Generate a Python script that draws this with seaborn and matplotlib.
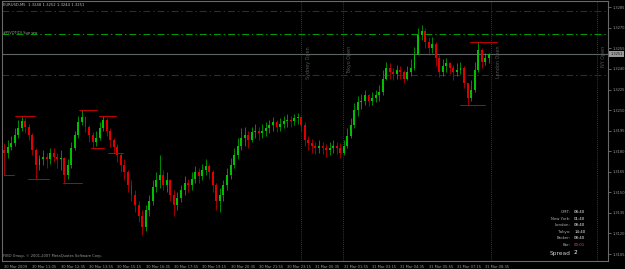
import numpy as np
import pandas as pd
import matplotlib
matplotlib.use("Agg")
import matplotlib.pyplot as plt
import matplotlib.transforms as mtransforms
import seaborn as sns

# ---------------- data (prices given in pips above 1.3100) ----------------
header_text = "EURUSD,M5  1.3248 1.3252 1.3244 1.3251"
first_open_pips = 81
close_pips = [79,83,86,92,97,102,98,92,81,70,74,76,74,79,76,74,75,63,70,82,
              92,101,105,98,92,87,90,97,103,95,88,83,77,70,65,55,48,41,33,25,
              37,44,54,59,63,55,59,48,41,46,52,57,55,60,65,62,66,69,65,55,
              44,48,55,63,70,77,84,90,92,88,94,95,93,95,97,99,101,98,100,102,
              103,102,104,105,99,88,86,84,82,84,82,81,82,84,82,79,84,91,99,110,
              116,117,121,117,119,121,123,133,141,138,136,139,138,133,138,141,150,165,168,160,
              155,158,148,138,142,144,141,138,139,141,130,119,125,139,154,145,148,151]
high_pips = [86,88,91,97,103,106,104,100,93,82,77,81,79,82,82,79,81,76,74,87,
             95,106,110,106,99,94,95,101,106,104,97,90,85,79,74,66,59,52,44,37,
             41,48,59,65,77,66,65,60,52,50,55,62,60,65,69,68,71,74,71,66,
             57,53,59,68,75,82,90,97,98,95,98,100,98,100,101,103,105,103,104,106,
             107,106,107,108,106,101,91,89,87,88,87,85,87,88,87,86,88,97,104,115,
             120,122,125,122,123,125,128,139,145,144,141,143,142,139,142,147,156,170,172,170,
             163,163,160,150,147,148,145,143,144,145,142,130,132,145,160,155,152,152]
low_pips = [63,75,81,84,90,95,93,88,77,60,66,70,68,71,72,68,66,57,60,68,
            81,90,99,94,87,82,84,88,95,91,83,79,72,65,59,50,44,36,28,19,
            22,33,41,50,53,52,50,44,33,37,43,48,50,52,57,57,59,63,60,50,
            37,36,44,52,60,68,74,81,84,82,87,90,88,90,91,93,95,94,95,97,
            98,98,99,100,95,84,81,79,78,79,78,76,77,79,78,75,77,82,90,97,
            106,111,114,113,114,116,117,121,132,133,132,133,133,130,132,135,139,154,161,155,
            150,152,142,134,135,138,136,132,135,136,126,114,117,123,138,141,143,144]
tick_labels = ["30 Mar 2009", "30 Mar 11:05", "30 Mar 12:35", "30 Mar 13:55", "30 Mar 15:15",
               "30 Mar 16:35", "30 Mar 17:55", "30 Mar 19:15", "30 Mar 20:35", "30 Mar 21:55",
               "30 Mar 23:15", "31 Mar 00:35", "31 Mar 01:55", "31 Mar 03:15", "31 Mar 04:35",
               "31 Mar 05:55", "31 Mar 07:15", "31 Mar 08:35"]
y_ticks = [1.3105, 1.3120, 1.3135, 1.3150, 1.3165, 1.3180, 1.3195, 1.3210, 1.3225,
           1.3240, 1.3255, 1.3270, 1.3285]
red_levels = [1.32823, 1.32356]
green_levels = [1.32655]
current_price = 1.3251
session_names = ["Sydney Open", "Tokyo Open", "London Open", "NY Open"]
session_bars = [84.0, 95.8, 137.7, 167.6]
marker_lines = [  # (start bar, end bar, price)
    (0, 2.8, 1.3163), (3.1, 8.8, 1.3206), (6.8, 12.7, 1.3160), (16.7, 22.0, 1.3157),
    (21.2, 26.3, 1.3210), (24.6, 28.3, 1.3182), (26.9, 31.7, 1.3206), (29.4, 33.6, 1.3179),
    (128.9, 136.0, 1.3214), (131.8, 139.4, 1.3260)]
info_labels = ["GMT:", "New York:", "London:", "Tokyo:", "Broker:", "Bar:"]
info_values = ["08:40", "01:40", "08:40", "14:40", "08:40", "00:01"]
spread_value = "2"
copyright_text = "FIBO Group, \u00a9 2001-2007 MetaQuotes Software Corp."

# ---------------- build candles ----------------
to_price = lambda p: 1.31 + np.asarray(p, dtype=float) / 10000
closes = to_price(close_pips)
opens = np.concatenate([[to_price(first_open_pips)], closes[:-1]])
df = pd.DataFrame({"bar": np.arange(len(closes)), "open": opens, "close": closes,
                   "high": to_price(high_pips), "low": to_price(low_pips)})
df["up"] = df["close"] >= df["open"]

sns.set_style("dark", {"axes.facecolor": "black", "figure.facecolor": "black"})
plt.rcParams["font.family"] = ["DejaVu Sans"]

W, H = 625, 269
fig = plt.figure(figsize=(W / 100, H / 100), dpi=100, facecolor="black")
ax = fig.add_axes([2 / W, 8 / H, 606 / W, 260 / H])
ax.set_facecolor("black")

green = "#00c000"
red = "#e00000"
colors = np.where(df["up"], green, red)

ax.vlines(df["bar"], df["low"], df["high"], colors=colors, linewidth=0.5, zorder=3)
body_bottom = df[["open", "close"]].min(axis=1)
body_h = (df["close"] - df["open"]).abs().clip(lower=0.00003)
ax.bar(df["bar"], body_h, bottom=body_bottom, width=0.55, color=colors, linewidth=0, zorder=4)

dashdot = (0, (7, 3, 1.5, 3))
for lv in red_levels:
    ax.axhline(lv, color="#a00000", linewidth=0.7, linestyle=dashdot, zorder=2)
for lv in green_levels:
    ax.axhline(lv, color="#00a000", linewidth=0.7, linestyle=dashdot, zorder=2)
ax.axhline(current_price, color="#5e6466", linewidth=0.8, zorder=2)

for (b0, b1, p) in marker_lines:
    ax.plot([b0, b1], [p, p], color="#c00000", linewidth=0.7, zorder=5)

trans = mtransforms.blended_transform_factory(ax.transData, ax.transAxes)
for name, b in zip(session_names, session_bars):
    ax.axvline(b, color="#4a4a4a", linewidth=0.6, linestyle=(0, (1, 1.5)), zorder=1)
    ax.text(b + 1.2, 0.827, name, rotation=90, transform=trans, ha="left", va="top",
            color="#555555", fontsize=3.5)

ax.set_xlim(-0.6, 170.7)
ax.set_ylim(1.30999, 1.32896)

ax.yaxis.tick_right()
ax.set_yticks(y_ticks)
ax.set_yticklabels([f"{v:.4f}" for v in y_ticks])
ax.set_xticks(np.arange(len(tick_labels)) * 8)
ax.set_xticklabels(tick_labels, ha="left")
ax.tick_params(axis="both", colors="#8a8a8a", labelcolor="#9a9a9a", labelsize=2.6,
               length=2, width=0.5, direction="out", pad=1.0)
ax.grid(False)
for s in ax.spines.values():
    s.set_color("#6a6a6a")
    s.set_linewidth(0.8)
    s.set_visible(True)

# current price box
ax.text(1.004, current_price, f"{current_price:.4f}",
        transform=mtransforms.blended_transform_factory(ax.transAxes, ax.transData),
        ha="left", va="center", fontsize=2.6, color="#202020",
        bbox=dict(boxstyle="square,pad=0.3", facecolor="#9a9a9a", edgecolor="none"), clip_on=False)

ax.text(0.002, 0.985, header_text, transform=ax.transAxes, ha="left", va="center",
        color="#bdbdbd", fontsize=2.7)
ax.text(0.002, 0.877, "#PIVOT(D) Sup ww", transform=ax.transAxes, ha="left", va="center",
        color="#9a9a9a", fontsize=2.6)
ax.text(0.002, 0.02, copyright_text, transform=ax.transAxes, ha="left", va="center",
        color="#9a9a9a", fontsize=2.6)

for k, (lab, val) in enumerate(zip(info_labels, info_values)):
    yy = 1 - (212 - 1 + k * 6.6) / 260
    ax.text(0.938, yy, lab, transform=ax.transAxes, ha="right", va="center", color="#b0b0b0", fontsize=2.8)
    ax.text(0.944, yy, val, transform=ax.transAxes, ha="left", va="center",
            color="#ff4040" if lab == "Bar:" else "#f0f0f0", fontsize=2.8)
ax.text(0.938, 1 - (253 - 1) / 260, "Spread", transform=ax.transAxes, ha="right", va="center",
        color="#d0d0d0", fontsize=4.2)
ax.text(0.944, 1 - (253 - 1) / 260, spread_value, transform=ax.transAxes, ha="left", va="center",
        color="#ffffff", fontsize=4.2)

fig.savefig("out.png", dpi=100, facecolor="black")
